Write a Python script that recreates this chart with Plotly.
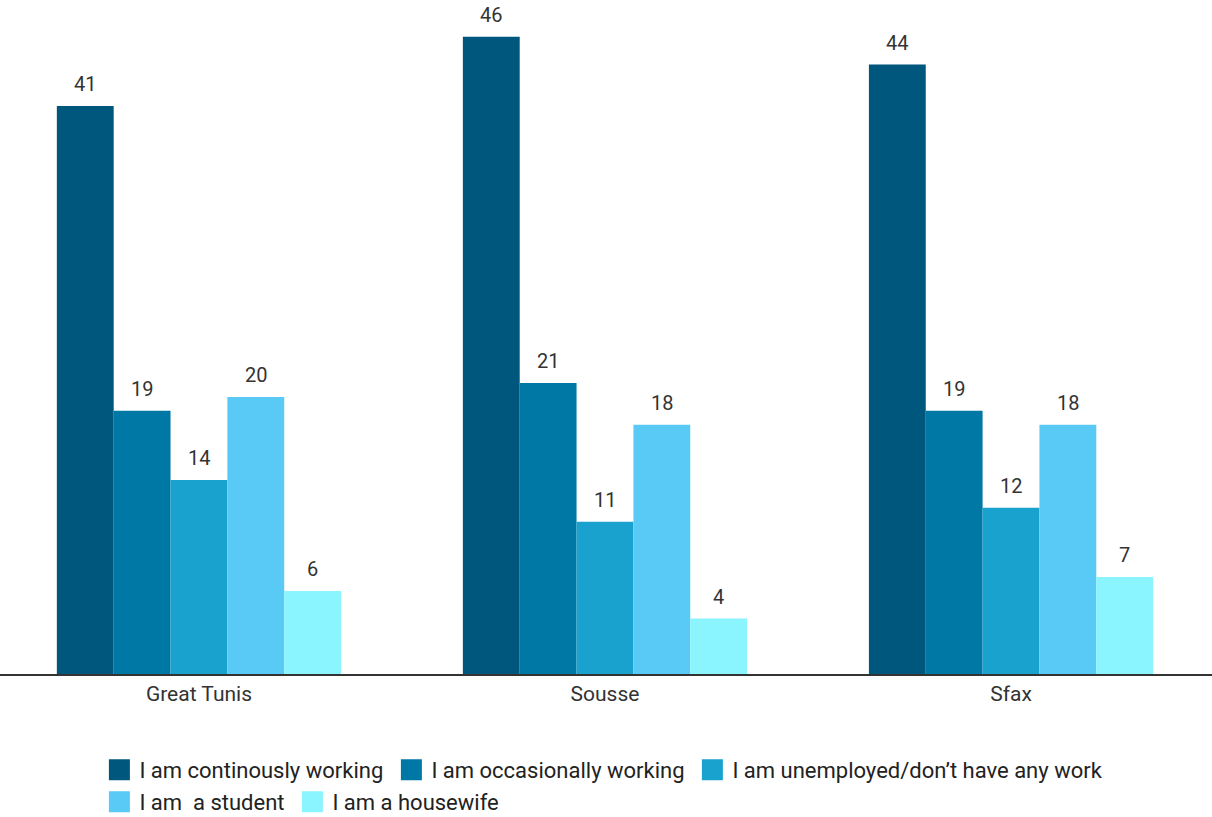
import plotly.graph_objects as go

regions = ["Great Tunis", "Sousse", "Sfax"]
series_names = [
    "I am continously working",
    "I am occasionally working",
    "I am unemployed/don’t have any work",
    "I am  a student",
    "I am a housewife",
]
continuously = [41, 46, 44]
occasionally = [19, 21, 19]
unemployed = [14, 11, 12]
student = [20, 18, 18]
housewife = [6, 4, 7]
colors = ["#00577D", "#0078A5", "#1AA2CE", "#58CAF5", "#8AF4FF"]
legend_rows = ["legend", "legend", "legend", "legend2", "legend2"]
legend_widths = [247, 256, None, 148, None]

values = [continuously, occasionally, unemployed, student, housewife]

BARGAP = 0.30
n = len(values)
bw = (1 - BARGAP) / n

fig = go.Figure()
for j, (name, vals, col) in enumerate(zip(series_names, values, colors)):
    fig.add_trace(go.Bar(
        x=regions, y=vals, name=name, marker=dict(color=col, line=dict(width=0)),
        showlegend=False,
    ))
    for i, v in enumerate(vals):
        fig.add_annotation(
            x=i + (j - (n - 1) / 2) * bw, y=v, text=str(v), showarrow=False,
            xref="x", yref="y", yanchor="bottom", yshift=8,
            font=dict(size=20, color="#333333", family="Roboto"),
        )
for name, col, lw, lg in zip(series_names, colors, legend_widths, legend_rows):
    kw = dict(legendwidth=lw) if lw else {}
    fig.add_trace(go.Scatter(
        x=[None], y=[None], mode="markers", name=name,
        marker=dict(symbol="square", size=16, color=col, line=dict(color=col, width=5)),
        showlegend=True, legend=lg, **kw,
    ))

legend_common = dict(orientation="h", x=0.082, xanchor="left", yanchor="middle",
                     font=dict(size=22, color="#222222"), itemsizing="trace",
                     tracegroupgap=0, itemwidth=30, bgcolor="rgba(0,0,0,0)")

fig.update_layout(
    width=1212, height=817,
    margin=dict(l=0, r=0, t=0, b=143, autoexpand=False),
    plot_bgcolor="white", paper_bgcolor="white",
    barmode="group", bargap=BARGAP, bargroupgap=0,
    font=dict(family="Roboto", color="#333333"),
    xaxis=dict(showline=True, linecolor="#333333", linewidth=1.5,
               range=[-0.490, 2.495],
               tickfont=dict(size=21, color="#333333"), ticks="", showgrid=False),
    yaxis=dict(range=[0, 48.66], visible=False, showgrid=False),
    legend=dict(y=-0.1424, **legend_common),
    legend2=dict(y=-0.190, **legend_common),
)
fig.write_html("out.html")
